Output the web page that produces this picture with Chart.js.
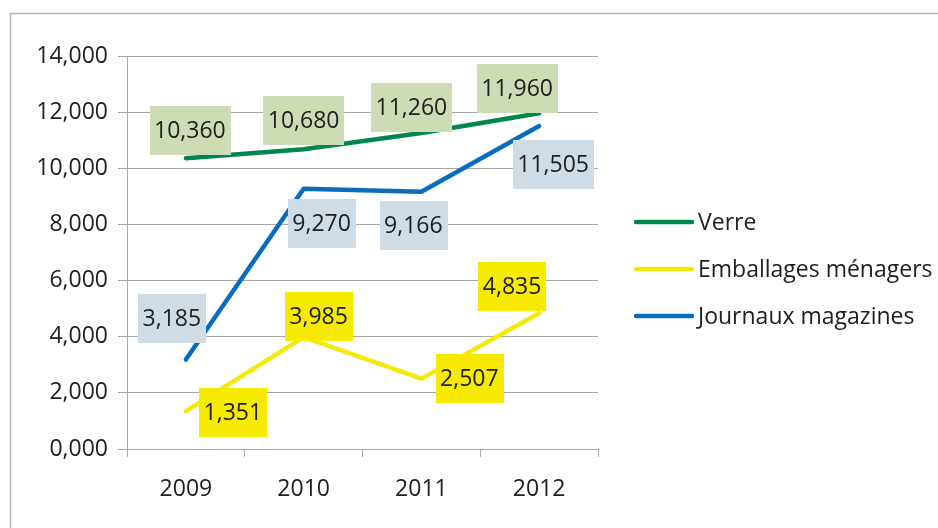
<!DOCTYPE html>
<html>
<head>
<meta charset="utf-8">
<script src="https://cdn.jsdelivr.net/npm/chart.js@4.4.1/dist/chart.umd.min.js"></script>
<style>
  html, body { margin: 0; padding: 0; background: #fff; }
  #wrap { position: relative; width: 938px; height: 528px; }
</style>
</head>
<body>
<div id="wrap"><canvas id="chart" width="938" height="528"></canvas></div>
<script>
// data
var years = ["2009", "2010", "2011", "2012"];
var verre = [10.360, 10.680, 11.260, 11.960];
var emballages = [1.351, 3.985, 2.507, 4.835];
var journaux = [3.185, 9.270, 9.166, 11.505];
var seriesNames = ["Verre", "Emballages ménagers", "Journaux magazines"];

// styles
var lineColors = ["#00874f", "#f5e90a", "#0a6cbd"];
var boxColors = ["#cddcb5", "#f5ea00", "#cfdbe5"];
// label box offsets from the point (px), per series
var labelOffsets = [
  [[4, -28], [0, -29], [-10, -25], [-22, -25]],
  [[47, 1], [15, -21], [48, 0], [-27, -27]],
  [[-14, -41], [18, 35], [-8, 34], [14, 38]]
];
var fontFamily = "'Open Sans', 'DejaVu Sans', sans-serif";
var fontSize = 23;
var textColor = "#202020";
var gridColor = "#a6a6a6";

function fmt(v) {
  return v.toFixed(3).replace('.', ',');
}

var labelPlugin = {
  id: 'labelPlugin',
  beforeDraw: function(chart) {
    var c = chart.ctx;
    c.save();
    c.strokeStyle = "#b3b3b3";
    c.lineWidth = 1.5;
    c.beginPath();
    c.moveTo(10.5, 528);
    c.lineTo(10.5, 13.5);
    c.lineTo(938, 13.5);
    c.stroke();
    c.restore();
  },
  afterDatasetsDraw: function(chart) {
    var c = chart.ctx;
    c.save();
    c.font = fontSize + "px " + fontFamily;
    c.textAlign = "center";
    c.textBaseline = "middle";
    chart.data.datasets.forEach(function(ds, i) {
      var meta = chart.getDatasetMeta(i);
      meta.data.forEach(function(pt, j) {
        var txt = fmt(ds.data[j]);
        var cx = pt.x + labelOffsets[i][j][0];
        var cy = pt.y + labelOffsets[i][j][1];
        var w = c.measureText(txt).width + 9;
        var h = 49;
        c.fillStyle = boxColors[i];
        c.fillRect(Math.round(cx - w / 2), Math.round(cy - h / 2), Math.round(w), h);
        c.fillStyle = textColor;
        c.fillText(txt, cx, cy + 1);
      });
    });
    // legend
    var lx = 636, ly = 222, step = 47;
    chart.data.datasets.forEach(function(ds, i) {
      var y = ly + i * step;
      c.strokeStyle = ds.borderColor;
      c.lineWidth = 4.5;
      c.lineCap = "round";
      c.beginPath();
      c.moveTo(lx, y);
      c.lineTo(lx + 56, y);
      c.stroke();
      c.fillStyle = textColor;
      c.textAlign = "left";
      c.fillText(ds.label, 698, y + 1);
    });
    c.restore();
  }
};

var ctx = document.getElementById("chart");

var chartData = {
  labels: years,
  datasets: [{
    label: seriesNames[0],
    data: verre,
    borderColor: lineColors[0]
  }, {
    label: seriesNames[1],
    data: emballages,
    borderColor: lineColors[1]
  }, {
    label: seriesNames[2],
    data: journaux,
    borderColor: lineColors[2]
  }]
};

chartData.datasets.forEach(function(ds) {
  ds.borderWidth = 4.5;
  ds.borderCapStyle = "round";
  ds.borderJoinStyle = "round";
  ds.pointRadius = 0;
  ds.tension = 0;
  ds.fill = false;
});

var config = {
  type: 'line',
  data: chartData,
  options: {
    responsive: false,
    animation: false,
    layout: { padding: { left: 0, right: 340, top: 56, bottom: 0 } },
    plugins: {
      legend: { display: false },
      tooltip: { enabled: false }
    },
    scales: {
      x: {
        offset: true,
        grid: {
          offset: true,
          drawOnChartArea: false,
          color: gridColor,
          tickLength: 8
        },
        border: { color: gridColor, width: 1 },
        ticks: {
          color: textColor,
          padding: 19,
          font: { family: fontFamily, size: fontSize }
        },
        afterFit: function(s) { s.height = 79; }
      },
      y: {
        min: 0,
        max: 14,
        ticks: {
          stepSize: 2,
          color: textColor,
          padding: 10,
          font: { family: fontFamily, size: fontSize },
          callback: function(v) { return fmt(v); }
        },
        grid: { color: gridColor, tickLength: 9 },
        border: { color: gridColor, width: 1 },
        afterFit: function(s) { s.width = 127; }
      }
    }
  },
  plugins: [labelPlugin]
};

var lineChart = new Chart(ctx, config);
</script>
</body>
</html>
